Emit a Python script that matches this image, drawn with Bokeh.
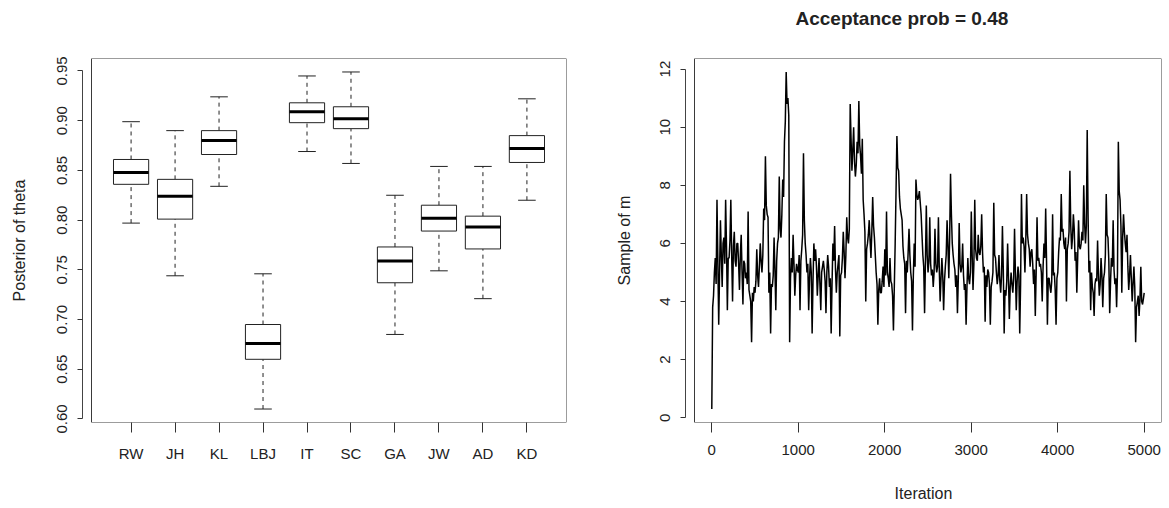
from bokeh.plotting import figure
from bokeh.layouts import row
from bokeh.models import Range1d, FixedTicker, Title, ColumnDataSource, BoxAnnotation
from bokeh.embed import file_html
from bokeh.resources import INLINE

# ---------------- data: left panel (boxplot of posterior theta) ----------------
players = ["RW", "JH", "KL", "LBJ", "IT", "SC", "GA", "JW", "AD", "KD"]
whisker_low = [0.797, 0.744, 0.834, 0.610, 0.869, 0.857, 0.685, 0.749, 0.721, 0.820]
quart_1 = [0.836, 0.801, 0.866, 0.660, 0.898, 0.892, 0.737, 0.789, 0.771, 0.858]
medians = [0.848, 0.824, 0.880, 0.676, 0.909, 0.902, 0.759, 0.802, 0.793, 0.872]
quart_3 = [0.861, 0.841, 0.890, 0.695, 0.918, 0.914, 0.773, 0.815, 0.804, 0.885]
whisker_high = [0.899, 0.890, 0.924, 0.746, 0.945, 0.949, 0.825, 0.854, 0.854, 0.922]
theta_ticks = [0.60, 0.65, 0.70, 0.75, 0.80, 0.85, 0.90, 0.95]

# ---------------- data: right panel (trace of m, read every 10 iterations) ----------------
iterations = list(range(1, 5001, 10)) + [5000]
samples_m = [
    0.3, 3.8, 4.2, 5.0, 5.5, 4.6, 7.5, 5.4, 3.2, 5.0,
    6.8, 5.6, 4.5, 6.0, 6.2, 5.3, 7.5, 5.9, 3.7, 5.5,
    5.5, 6.1, 7.5, 5.6, 4.0, 5.9, 6.4, 5.4, 5.2, 6.0,
    6.0, 5.3, 4.4, 5.6, 6.3, 5.0, 3.9, 5.4, 5.3, 4.8,
    5.0, 4.6, 7.1, 4.4, 4.2, 4.0, 2.6, 4.3, 4.0, 4.5,
    4.3, 4.7, 5.8, 4.9, 4.5, 5.2, 6.0, 5.4, 5.0, 5.6,
    7.2, 6.8, 9.0, 7.3, 7.0, 6.9, 4.3, 5.0, 2.9, 4.6,
    4.5, 4.9, 6.2, 5.1, 3.7, 5.4, 6.0, 6.2, 8.3, 6.5,
    6.2, 7.0, 8.2, 7.6, 9.5, 10.2, 11.9, 10.8, 11.0, 10.4,
    2.6, 4.8, 5.5, 5.0, 6.3, 5.3, 4.2, 4.9, 5.3, 5.1,
    5.0, 5.6, 3.7, 5.4, 5.8, 6.3, 9.1, 6.8, 6.0, 5.6,
    5.0, 5.3, 3.7, 4.8, 5.5, 5.0, 2.9, 4.7, 6.0, 5.4,
    5.8, 5.2, 4.2, 4.9, 5.5, 4.6, 3.7, 5.0, 5.2, 5.4,
    5.1, 4.7, 3.6, 5.0, 5.6, 5.2, 4.5, 4.8, 2.9, 4.6,
    6.0, 5.4, 6.6, 5.1, 4.3, 5.0, 5.3, 5.6, 2.8, 4.9,
    5.0, 5.5, 6.4, 5.7, 4.8, 5.6, 6.9, 6.2, 6.0, 6.5,
    10.8, 9.6, 8.5, 9.2, 10.0, 8.8, 8.3, 8.7, 9.5, 9.1,
    10.9, 9.4, 9.0, 8.4, 9.6, 7.5, 7.0, 6.4, 4.0, 5.8,
    6.0, 6.3, 6.8, 6.1, 5.5, 6.4, 7.6, 6.6, 6.2, 5.6,
    5.0, 4.6, 3.2, 4.4, 4.8, 4.3, 4.3, 4.7, 5.2, 4.5,
    5.8, 4.9, 7.1, 5.0, 4.8, 4.5, 5.5, 4.7, 4.6, 4.2,
    3.0, 4.5, 6.0, 7.8, 9.7, 8.6, 8.5, 7.6, 7.2, 7.0,
    6.8, 5.9, 5.5, 5.3, 3.6, 5.4, 5.0, 5.7, 6.5, 5.6,
    5.0, 4.7, 3.0, 4.9, 6.0, 5.2, 8.2, 7.7, 7.5, 7.6,
    7.8, 7.4, 7.0, 6.3, 5.6, 5.2, 3.6, 5.4, 7.3, 5.6,
    5.0, 5.4, 6.9, 5.3, 4.9, 5.1, 4.5, 5.0, 6.5, 5.3,
    5.0, 5.2, 6.9, 5.1, 4.0, 4.8, 5.5, 4.9, 3.7, 4.7,
    5.2, 5.6, 6.8, 5.9, 4.8, 6.2, 8.4, 7.0, 6.0, 5.6,
    5.3, 5.1, 4.5, 4.9, 3.6, 4.8, 6.7, 5.3, 5.0, 5.2,
    6.0, 4.9, 4.4, 4.6, 3.2, 4.5, 5.5, 4.8, 4.6, 5.0,
    7.1, 5.6, 4.4, 5.3, 7.5, 5.8, 5.5, 5.4, 6.3, 5.7,
    5.6, 5.9, 7.0, 5.7, 5.0, 5.2, 3.3, 4.9, 4.5, 5.1,
    5.0, 4.6, 3.2, 4.5, 4.7, 5.0, 7.4, 5.6, 5.5, 5.0,
    4.6, 4.9, 5.6, 4.7, 4.3, 4.9, 6.6, 5.1, 2.9, 4.4,
    4.2, 4.7, 6.0, 4.8, 3.4, 4.5, 5.0, 4.6, 4.3, 4.8,
    6.5, 5.0, 3.7, 4.7, 5.2, 4.9, 2.9, 4.6, 7.7, 6.0,
    6.2, 5.9, 5.0, 6.1, 7.7, 6.3, 6.0, 5.8, 5.2, 5.7,
    5.8, 5.3, 4.6, 5.1, 3.5, 5.0, 6.9, 5.4, 5.5, 5.2,
    5.3, 5.0, 4.0, 5.2, 6.0, 5.5, 7.2, 5.4, 3.2, 4.8,
    4.8, 4.5, 4.3, 4.7, 7.0, 4.9, 5.0, 4.4, 3.2, 4.8,
    5.0, 5.7, 6.2, 6.1, 7.7, 6.4, 6.5, 6.0, 5.8, 6.2,
    4.0, 5.8, 6.0, 6.4, 8.5, 6.6, 5.8, 6.2, 7.0, 6.5,
    5.4, 5.7, 4.3, 5.5, 6.8, 5.9, 5.8, 6.0, 6.4, 6.1,
    8.0, 6.7, 6.0, 6.6, 9.9, 7.0, 5.0, 5.4, 3.7, 5.0,
    4.5, 4.3, 3.5, 4.6, 4.8, 4.7, 6.1, 4.9, 4.2, 4.6,
    5.5, 4.9, 3.8, 4.8, 5.0, 5.6, 7.7, 6.3, 6.2, 5.4,
    3.6, 4.7, 5.5, 5.2, 6.8, 5.1, 4.6, 4.8, 3.8, 5.0,
    9.5, 7.8, 7.5, 6.6, 4.3, 6.2, 7.0, 6.4, 6.0, 5.7,
    6.3, 5.2, 4.4, 4.9, 5.6, 4.8, 4.0, 4.6, 5.2, 4.5,
    2.6, 3.8, 4.0, 4.2, 3.5, 4.1, 5.2, 4.0, 3.9, 4.1,
    4.3,
]
iter_ticks = [0, 1000, 2000, 3000, 4000, 5000]
m_ticks = [0, 2, 4, 6, 8, 10, 12]

FONT = "Liberation Sans"
INK = "#222222"
FRAME = "#3a3a3a"
AXIS_GAP = 9  # px between detached y axis line and the plot box


def style(p):
    p.grid.visible = False
    p.outline_line_color = None
    p.background_fill_color = "white"
    p.border_fill_color = "white"
    for ax in (p.xaxis[0], p.yaxis[0]):
        ax.major_tick_line_color = "#333333"
        ax.minor_tick_line_color = None
        ax.major_label_text_font = FONT
        ax.major_label_text_font_size = "15px"
        ax.major_label_text_color = INK
        ax.axis_label_text_font = FONT
        ax.axis_label_text_font_size = "16px"
        ax.axis_label_text_font_style = "normal"
        ax.axis_label_text_color = INK
    ya = p.yaxis[0]
    ya.axis_line_color = "#444444"
    ya.major_tick_in = 0
    ya.major_tick_out = 5
    ya.major_label_orientation = "vertical"
    ya.major_label_standoff = 10
    xa = p.xaxis[0]
    xa.axis_line_color = None
    xa.major_tick_in = 0
    xa.major_tick_out = 10
    xa.major_label_standoff = 12


def box_frame(p, x0, x1, y0, y1):
    p.add_layout(BoxAnnotation(left=x0, right=x1, bottom=y0, top=y1,
                               fill_color=None, fill_alpha=0,
                               line_color=FRAME, line_alpha=1.0, line_width=1))


# ---------------- left: boxplot ----------------
pos = list(range(1, len(players) + 1))
half_w = 0.4
cap_w = 0.2
lo = min(whisker_low)
hi = max(whisker_high)
pad = 0.04 * (hi - lo)
bx0 = 0.5 - 0.04 * len(players)
bx1 = len(players) + 0.5 + 0.04 * len(players)
frame_w1 = 484
ax_x0 = bx0 - AXIS_GAP * (bx1 - bx0) / (frame_w1 - AXIS_GAP)

p1 = figure(width=608, height=508, output_backend="svg", toolbar_location=None,
            x_range=Range1d(ax_x0, bx1), y_range=Range1d(lo - pad, hi + pad),
            min_border_left=82, min_border_right=42, min_border_top=52, min_border_bottom=86)
style(p1)
box_frame(p1, bx0, bx1, lo - pad, hi + pad)

src = ColumnDataSource(dict(
    x=pos,
    l=[x - half_w for x in pos], r=[x + half_w for x in pos],
    cl=[x - cap_w for x in pos], cr=[x + cap_w for x in pos],
    lw=whisker_low, q1=quart_1, med=medians, q3=quart_3, hw=whisker_high,
))
p1.segment(x0="x", y0="q3", x1="x", y1="hw", source=src, line_color="#222222",
           line_width=1, line_dash="4 4")
p1.segment(x0="x", y0="lw", x1="x", y1="q1", source=src, line_color="#222222",
           line_width=1, line_dash="4 4")
p1.segment(x0="cl", y0="hw", x1="cr", y1="hw", source=src, line_color="#222222", line_width=1)
p1.segment(x0="cl", y0="lw", x1="cr", y1="lw", source=src, line_color="#222222", line_width=1)
p1.quad(left="l", right="r", bottom="q1", top="q3", source=src,
        fill_color="white", line_color="#222222", line_width=1)
p1.segment(x0="l", y0="med", x1="r", y1="med", source=src, line_color="black", line_width=3)

p1.xaxis.ticker = FixedTicker(ticks=pos)
p1.xaxis.major_label_overrides = {i: name for i, name in zip(pos, players)}
p1.yaxis.ticker = FixedTicker(ticks=theta_ticks)
p1.yaxis.bounds = (theta_ticks[0], theta_ticks[-1])
p1.yaxis.major_label_overrides = {t: f"{t:.2f}" for t in theta_ticks}
p1.yaxis.axis_label = "Posterior of theta"
p1.yaxis.axis_label_standoff = 27

# ---------------- right: trace plot ----------------
mlo = min(samples_m)
mhi = max(samples_m)
mpad = 0.04 * (mhi - mlo)
ilo = 1
ihi = 5000
ipad = 0.04 * (ihi - ilo)
ix0 = ilo - ipad
ix1 = ihi + ipad
frame_w2 = 476
ax_i0 = ix0 - AXIS_GAP * (ix1 - ix0) / (frame_w2 - AXIS_GAP)

p2 = figure(width=561, height=508, output_backend="svg", toolbar_location=None,
            x_range=Range1d(ax_i0, ix1), y_range=Range1d(mlo - mpad, mhi + mpad),
            min_border_left=77, min_border_right=8, min_border_top=57, min_border_bottom=85)
style(p2)
box_frame(p2, ix0, ix1, mlo - mpad, mhi + mpad)
p2.title = Title(text="Acceptance prob = 0.48", align="left", offset=110,
                 text_font=FONT, text_font_size="19px", text_font_style="bold",
                 text_color=INK, padding=dict(left=0, right=0, top=0, bottom=25))
p2.line(x=iterations, y=samples_m, line_color="black", line_width=1.5)
p2.xaxis.ticker = FixedTicker(ticks=iter_ticks)
p2.xaxis.axis_label = "Iteration"
p2.xaxis.axis_label_standoff = 27
p2.yaxis.ticker = FixedTicker(ticks=m_ticks)
p2.yaxis.bounds = (m_ticks[0], m_ticks[-1])
p2.yaxis.axis_label = "Sample of m"
p2.yaxis.axis_label_standoff = 25

layout = row(p1, p2)
open("out.html", "w").write(file_html(layout, INLINE))
